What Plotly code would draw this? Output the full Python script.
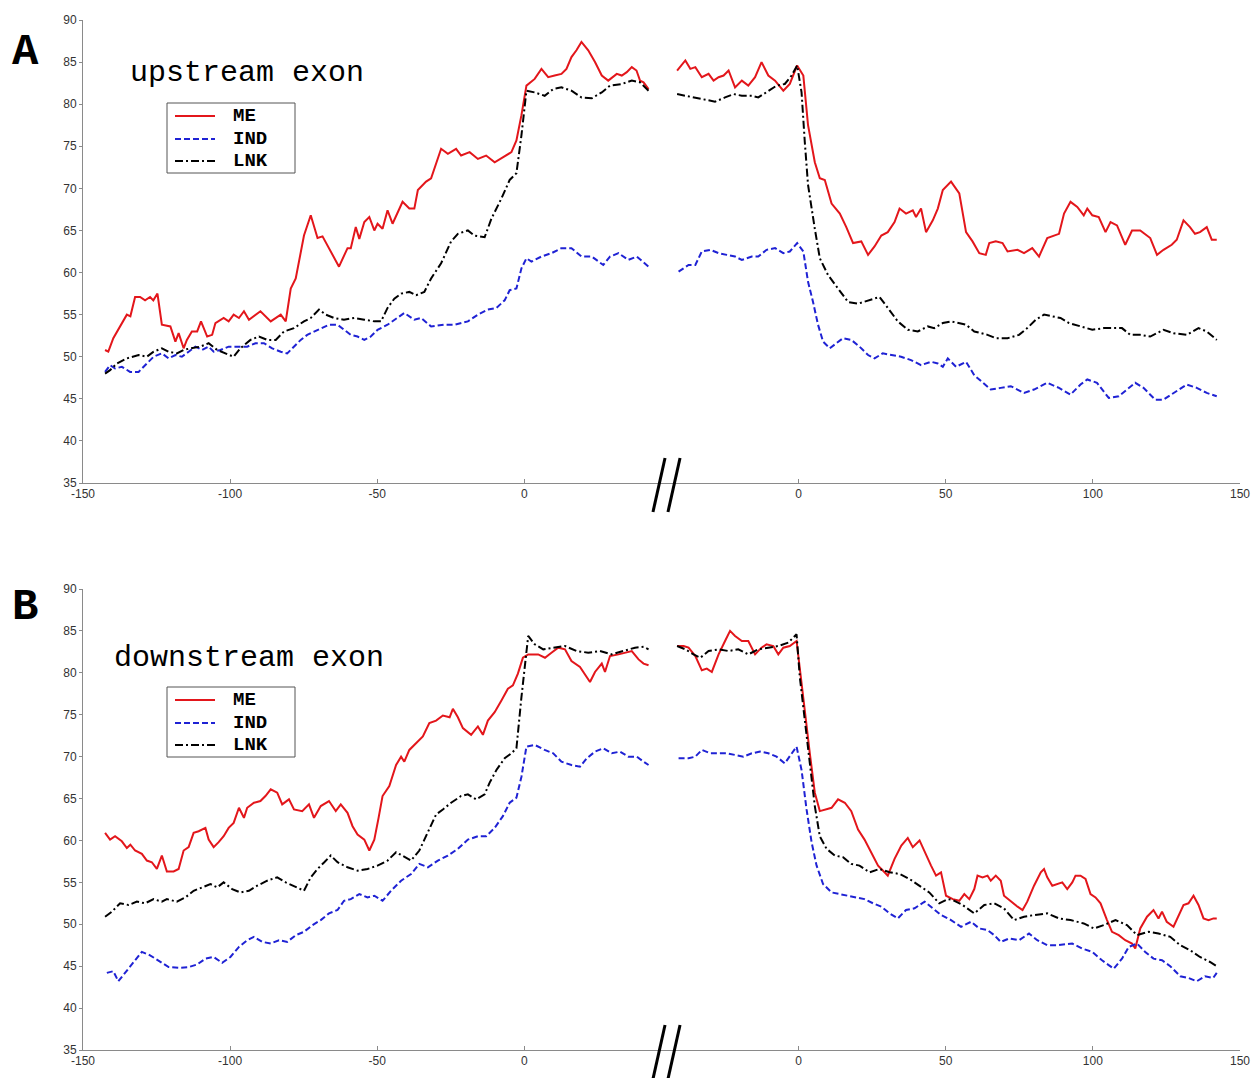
import plotly.graph_objects as go

# ---------------- data (x = position relative to splice site, y = value) -------------
# Panel A (upstream exon), left segment
A_ME_LX = [-142.5,-141.4,-139.7,-136.8,-135.1,-133.9,-132.3,-130.6,-128.9,-127.2,-126.1,-124.7,-123.2,-120.3,-118.6,-117.5,-115.8,-114.7,-113.0,-111.2,-109.9,-107.8,-106.1,-105.0,-102.2,-100.5,-98.8,-97.0,-95.3,-93.6,-89.7,-86.2,-84.5,-82.8,-81.1,-79.4,-77.7,-74.9,-72.6,-70.3,-68.6,-66.4,-63.0,-60.1,-59.0,-57.3,-56.1,-54.4,-52.7,-51.0,-49.9,-48.2,-46.5,-44.8,-41.4,-39.1,-37.4,-36.2,-33.4,-31.7,-28.3,-26.0,-23.2,-21.5,-18.6,-15.8,-13.0,-10.1,-7.3,-4.4,-2.7,-1.0,0.7,3.5,5.8,8.1,10.3,12.6,14.3,16.0,17.7,19.4,21.7,24.0,26.3,28.5,31.4,33.1,34.8,36.5,38.1,39.3,40.5,42.2]
A_ME_L = [50.8,50.6,52.2,54.0,55.0,54.8,57.1,57.1,56.7,57.1,56.7,57.5,53.8,53.6,51.8,52.8,51.0,52.0,53.0,53.0,54.2,52.4,52.6,54.0,54.6,54.2,55.0,54.6,55.4,54.4,55.4,54.2,54.6,55.0,54.2,58.1,59.3,64.4,66.8,64.1,64.3,62.9,60.7,62.9,62.9,65.4,64.0,66.0,66.6,65.0,65.8,65.2,67.4,65.8,68.4,67.6,67.6,69.8,70.8,71.2,74.7,74.1,74.7,73.9,74.3,73.5,73.9,73.1,73.7,74.3,75.7,78.7,82.2,83.0,84.2,83.2,83.4,83.6,84.2,85.6,86.4,87.4,86.4,85.0,83.4,82.8,83.6,83.4,83.8,84.4,84.0,82.8,82.6,81.8]
A_IND_LX = [-142.5,-140.8,-139.1,-136.8,-134.0,-131.1,-128.3,-126.0,-123.2,-120.9,-118.6,-116.4,-114.1,-111.8,-109.5,-107.3,-105.6,-103.3,-100.5,-97.6,-94.2,-91.4,-88.5,-85.7,-82.8,-80.6,-78.3,-76.0,-73.8,-71.5,-69.2,-66.4,-63.5,-61.3,-59.0,-56.7,-54.4,-52.2,-49.9,-46.5,-43.1,-40.8,-37.4,-35.1,-31.7,-27.2,-23.7,-19.2,-15.8,-12.4,-9.5,-6.7,-5.0,-2.7,-1.0,0.7,2.4,5.8,9.2,12.6,16.0,19.4,22.9,26.8,29.1,32.0,35.3,38.2,42.2]
A_IND_L = [48.2,49.0,48.6,48.8,48.2,48.2,49.2,50.0,50.4,49.8,50.2,50.0,50.6,51.2,50.8,51.2,50.6,50.8,51.2,51.2,51.2,51.6,51.6,51.0,50.6,50.4,51.2,52.0,52.6,53.0,53.4,53.8,53.8,53.2,52.6,52.4,52.0,52.4,53.2,53.8,54.6,55.2,54.4,54.6,53.6,53.8,53.8,54.2,55.0,55.6,55.8,56.7,57.9,58.1,60.5,61.7,61.3,61.9,62.3,62.9,62.9,61.9,61.9,60.9,61.9,62.3,61.5,61.9,60.7]
A_LNK_LX = [-142.5,-140.8,-138.5,-135.1,-131.1,-128.3,-126.0,-123.2,-120.9,-118.1,-115.8,-113.5,-110.1,-107.3,-104.4,-101.6,-98.8,-96.5,-93.1,-90.2,-87.4,-84.5,-81.7,-78.3,-74.9,-72.6,-69.8,-67.5,-64.7,-61.3,-57.8,-54.4,-51.0,-48.7,-46.5,-44.2,-41.9,-39.1,-36.8,-34.0,-31.7,-28.3,-24.9,-22.6,-19.2,-17.0,-13.5,-11.2,-7.8,-5.0,-2.7,-1.0,0.7,3.5,6.9,9.8,12.6,16.0,19.4,22.9,26.3,29.1,33.1,36.5,39.3,42.2]
A_LNK_L = [48.0,48.4,49.2,49.8,50.2,50.0,50.6,51.0,50.6,50.4,50.8,51.0,51.2,51.6,50.8,50.4,50.0,51.0,52.0,52.4,52.0,52.0,53.0,53.4,54.2,54.6,55.6,55.0,54.6,54.4,54.6,54.4,54.2,54.2,55.8,56.9,57.5,57.7,57.3,57.7,59.3,61.1,63.7,64.6,65.0,64.4,64.2,66.4,68.8,71.0,71.8,76.3,81.6,81.4,81.0,81.8,82.0,81.6,80.8,80.7,81.4,82.2,82.4,82.8,82.6,81.6]

# Panel A, right segment
A_ME_RX = [-41.3,-38.5,-36.8,-35.1,-32.9,-30.6,-28.9,-27.2,-25.5,-23.8,-21.6,-19.3,-17.1,-14.8,-12.6,-10.3,-8.0,-5.2,-3.0,-0.5,1.6,3.2,5.5,7.2,8.9,11.2,14.0,16.2,18.5,21.3,23.6,25.8,28.1,30.3,32.6,34.3,36.5,38.8,39.9,41.6,43.3,45.6,47.3,49.0,51.8,54.6,56.9,59.1,61.4,63.6,64.8,67.0,69.3,71.0,74.4,76.6,79.4,81.7,84.5,86.8,88.5,90.2,92.4,94.7,96.9,98.1,99.8,102.0,104.3,106.0,108.2,111.0,113.3,116.1,119.5,121.8,124.0,126.8,128.5,130.8,133.0,134.7,136.4,138.7,140.4,142.1]
A_ME_R = [84.0,85.2,84.2,84.4,83.2,83.6,82.8,83.2,83.4,84.0,82.0,82.8,82.2,83.2,85.0,83.4,82.8,81.6,82.4,84.6,83.4,77.5,73.1,71.2,71.0,68.2,67.0,65.4,63.5,63.7,62.1,63.1,64.4,64.8,66.0,67.6,67.0,67.4,66.6,67.6,64.8,66.2,67.6,69.8,70.8,69.4,64.8,63.7,62.3,62.1,63.5,63.7,63.5,62.5,62.7,62.3,62.9,61.9,64.1,64.4,64.6,67.0,68.4,67.8,66.8,67.6,66.8,66.6,64.8,66.0,65.6,63.3,65.0,65.0,64.1,62.1,62.7,63.3,63.9,66.2,65.4,64.6,64.8,65.4,63.9,63.9]
A_IND_RX = [-40.8,-37.4,-35.1,-32.9,-30.0,-27.2,-24.4,-21.6,-19.3,-15.9,-13.7,-10.9,-8.0,-5.2,-3.0,-0.5,1.6,3.2,4.9,6.6,8.3,10.6,12.8,15.1,17.9,20.7,23.6,25.8,28.6,31.5,34.8,38.2,41.6,45.0,47.3,49.0,50.7,53.5,56.9,59.7,63.1,65.3,68.7,72.1,76.6,80.0,84.5,88.5,92.4,95.8,98.1,101.4,105.4,108.8,111.6,114.4,117.2,121.2,124.0,127.4,131.9,135.3,138.7,142.1]
A_IND_R = [60.1,60.9,60.9,62.5,62.7,62.3,62.1,61.9,61.5,61.9,61.9,62.7,62.9,62.3,62.5,63.5,62.5,58.9,56.5,53.8,51.8,51.0,51.6,52.2,52.0,51.2,50.2,49.8,50.4,50.2,50.0,49.6,49.0,49.4,49.2,48.8,49.8,48.8,49.4,47.8,46.7,46.1,46.3,46.5,45.7,46.1,46.9,46.3,45.5,46.7,47.3,46.9,45.1,45.3,46.1,46.9,46.3,44.9,44.9,45.7,46.7,46.3,45.7,45.3]
A_LNK_RX = [-41.3,-38.5,-35.1,-31.7,-28.4,-25.0,-22.1,-19.3,-15.9,-13.7,-10.3,-7.5,-4.7,-2.4,-0.5,1.0,2.1,3.2,5.5,7.2,10.0,13.4,16.8,20.2,23.6,27.5,30.3,33.7,37.1,40.5,43.9,46.1,49.0,51.8,56.9,59.7,64.2,67.0,71.0,74.9,77.7,80.6,83.4,86.8,89.0,91.9,95.8,99.8,103.7,107.1,109.9,112.7,116.1,119.5,124.0,127.4,131.9,135.9,138.7,142.1]
A_LNK_R = [81.2,81.0,80.7,80.5,80.3,80.8,81.2,81.0,81.0,80.8,81.6,82.2,82.4,83.4,84.6,81.4,75.5,70.4,65.2,61.7,59.7,58.1,56.5,56.3,56.7,57.1,55.8,54.2,53.2,53.0,53.6,53.4,54.0,54.2,53.8,53.0,52.6,52.2,52.2,52.6,53.4,54.4,55.0,54.8,54.6,54.0,53.6,53.2,53.4,53.4,53.4,52.6,52.6,52.4,53.2,52.8,52.6,53.4,53.0,52.0]

# Panel B (downstream exon), left segment
B_ME_LX = [-142.5,-140.8,-139.1,-136.8,-135.1,-133.9,-132.3,-130.0,-128.3,-126.6,-124.9,-123.2,-121.5,-119.2,-117.5,-115.8,-114.1,-112.4,-110.7,-108.4,-107.3,-105.6,-103.9,-102.2,-100.5,-98.8,-97.0,-95.3,-94.2,-91.9,-89.7,-88.0,-86.2,-84.0,-82.3,-80.0,-78.3,-75.5,-73.2,-71.5,-69.2,-66.4,-64.1,-62.4,-60.1,-58.4,-56.7,-54.4,-52.7,-51.0,-49.6,-48.2,-45.9,-43.6,-41.9,-40.8,-39.1,-36.8,-34.5,-32.3,-30.0,-27.7,-25.4,-24.3,-22.6,-20.9,-18.1,-15.8,-14.1,-12.4,-10.1,-7.8,-5.6,-3.9,-2.2,-0.5,1.3,4.7,7.0,9.2,11.5,13.8,16.0,18.9,21.2,22.3,24.0,26.3,27.4,29.1,32.0,34.2,36.5,38.8,40.5,42.2]
B_ME_L = [60.9,60.1,60.5,59.9,59.1,59.5,58.8,58.4,57.6,57.4,56.6,58.2,56.3,56.3,56.6,58.8,59.2,60.9,61.1,61.5,60.1,59.2,59.8,60.5,61.5,62.1,63.9,62.7,63.9,64.5,64.7,65.3,66.1,65.7,64.3,64.9,63.7,63.5,64.3,62.7,64.1,64.7,63.5,64.3,63.3,61.7,60.7,60.1,58.8,60.1,62.6,65.3,66.5,69.0,70.0,69.4,70.8,71.6,72.4,74.0,74.3,74.9,74.7,75.7,74.7,73.4,72.6,73.6,72.6,74.3,75.3,76.7,78.1,78.5,79.9,81.8,82.2,82.2,81.8,82.4,83.0,82.8,81.4,80.7,79.5,78.9,80.1,81.1,80.1,82.0,82.2,82.4,82.6,81.6,81.1,80.9]
B_IND_LX = [-141.9,-139.7,-138.0,-135.7,-132.8,-130.0,-127.2,-124.3,-120.9,-117.5,-114.1,-111.2,-108.4,-105.6,-102.7,-99.9,-97.0,-94.2,-91.9,-89.1,-86.2,-83.4,-80.6,-77.7,-74.9,-72.0,-69.2,-66.4,-63.5,-61.3,-59.0,-56.1,-53.3,-51.0,-48.2,-45.3,-41.9,-38.5,-35.7,-32.8,-29.4,-26.0,-22.6,-19.2,-15.8,-13.0,-10.1,-7.3,-5.0,-2.7,-1.0,0.7,3.5,6.9,9.8,12.6,16.0,18.9,21.2,24.0,26.8,29.7,32.5,35.3,38.2,40.5,42.2]
B_IND_L = [44.2,44.4,43.2,44.2,45.4,46.7,46.3,45.7,44.9,44.8,44.9,45.2,45.9,46.1,45.4,46.1,47.3,48.1,48.5,47.9,47.7,48.1,47.9,48.7,49.1,49.9,50.5,51.3,51.7,52.8,53.0,53.6,53.2,53.4,52.8,54.0,55.2,56.0,57.2,56.8,57.6,58.2,59.0,60.1,60.5,60.5,61.5,62.9,64.5,65.1,67.6,71.2,71.4,70.8,70.4,69.4,69.0,68.8,69.8,70.6,71.0,70.4,70.6,70.0,70.0,69.4,69.0]
B_LNK_LX = [-142.5,-140.2,-137.4,-134.5,-131.7,-128.9,-126.0,-123.2,-121.5,-118.1,-115.2,-112.4,-109.5,-106.7,-104.4,-102.2,-99.3,-96.5,-93.6,-90.8,-87.4,-84.0,-81.1,-77.7,-74.9,-72.6,-70.3,-68.0,-65.8,-63.5,-60.1,-56.7,-53.3,-49.9,-46.5,-43.6,-41.4,-38.5,-35.7,-33.4,-30.0,-27.7,-24.9,-21.5,-19.2,-16.4,-13.5,-11.8,-9.5,-6.7,-4.4,-2.7,-1.0,1.3,3.5,6.4,9.8,13.8,17.7,21.7,25.7,29.7,33.6,37.6,40.5,42.2]
B_LNK_L = [50.9,51.5,52.5,52.3,52.7,52.5,53.0,52.7,53.0,52.7,53.2,54.0,54.4,54.8,54.4,55.0,54.2,53.8,54.0,54.6,55.2,55.6,55.0,54.4,54.0,55.6,56.6,57.4,58.2,57.4,56.8,56.4,56.6,57.0,57.6,58.6,58.2,57.6,58.8,60.5,63.1,63.7,64.5,65.3,65.5,64.9,65.5,66.9,68.4,69.8,70.4,71.0,77.1,84.4,83.4,82.8,83.0,83.2,82.6,82.4,82.6,82.2,82.6,83.0,83.1,82.8]

# Panel B, right segment
B_ME_RX = [-41.3,-39.1,-37.4,-35.1,-32.9,-31.2,-29.5,-27.2,-25.0,-23.3,-21.6,-19.3,-17.1,-14.8,-12.6,-10.9,-8.6,-6.9,-5.2,-3.0,-0.7,0.4,2.1,3.8,5.5,7.2,8.9,11.2,13.4,15.7,17.9,20.2,22.4,24.7,27.0,29.2,30.3,32.6,34.9,37.1,38.8,41.1,42.8,45.0,46.7,48.4,50.1,52.4,54.6,56.3,58.0,59.7,60.8,62.5,64.2,65.3,67.0,68.7,69.8,72.1,74.4,76.1,77.7,80.0,82.3,83.4,84.5,86.2,87.9,89.6,91.3,93.0,94.1,95.8,97.5,99.2,100.9,102.6,104.8,106.5,108.8,111.0,113.3,114.4,116.1,118.4,120.6,122.3,123.5,125.1,127.4,129.1,130.8,132.5,134.2,135.9,137.6,139.3,141.0,142.1]
B_ME_R = [83.2,83.2,83.0,82.0,80.3,80.5,80.1,82.2,83.8,85.0,84.4,83.8,83.8,82.2,83.0,83.4,83.2,82.2,83.0,83.2,83.8,80.7,75.5,70.4,65.7,63.5,63.7,63.9,64.9,64.5,63.5,61.3,60.1,58.6,57.0,56.2,55.8,57.8,59.4,60.3,59.2,60.0,58.6,57.0,55.8,56.2,53.4,53.0,52.8,53.6,53.0,54.2,55.8,55.6,55.8,55.2,55.8,55.2,53.4,52.7,52.1,51.7,52.7,54.6,56.2,56.6,55.6,54.6,54.8,55.0,54.2,55.0,55.8,55.8,55.4,53.6,53.2,52.5,50.5,49.1,48.7,48.1,47.7,47.1,49.5,50.9,51.7,50.7,51.5,50.3,49.7,50.9,52.3,52.5,53.4,52.3,50.7,50.5,50.7,50.7]
B_IND_RX = [-40.8,-37.4,-35.1,-32.9,-30.0,-27.2,-24.4,-21.6,-18.8,-15.9,-13.1,-10.3,-7.5,-4.7,-2.4,-0.7,1.0,2.7,4.4,6.1,8.3,11.2,14.0,16.8,19.6,22.4,25.3,28.1,30.9,33.7,36.5,39.4,42.8,45.6,48.4,51.8,55.2,58.6,61.4,64.2,66.5,68.7,71.5,74.9,78.3,81.1,84.5,87.9,93.0,96.4,99.8,103.1,107.1,109.9,112.2,115.0,117.8,120.6,123.5,126.3,129.7,132.5,135.3,138.1,140.9,142.1]
B_IND_R = [69.8,69.8,70.0,70.8,70.4,70.4,70.4,70.2,70.0,70.4,70.6,70.4,70.0,69.2,70.4,71.2,68.4,63.7,59.8,57.0,54.8,53.8,53.6,53.4,53.2,53.0,52.5,52.1,51.3,50.7,51.7,51.9,52.7,51.9,51.1,50.5,49.7,50.3,49.5,49.3,48.7,47.9,48.3,48.1,48.9,48.1,47.5,47.5,47.7,47.1,46.7,45.7,44.7,45.9,47.3,47.7,46.7,45.9,45.7,45.0,43.8,43.6,43.2,43.8,43.6,44.2]
B_LNK_RX = [-41.3,-38.5,-35.7,-33.4,-30.6,-27.2,-23.8,-20.5,-17.1,-13.7,-10.3,-6.9,-3.5,-0.7,0.4,2.1,3.8,5.5,7.2,9.5,12.3,15.1,17.9,20.7,24.1,27.5,30.9,34.3,37.7,41.1,44.4,47.8,50.7,52.4,55.7,59.7,63.1,66.5,69.8,73.2,76.6,80.0,84.5,88.5,92.4,96.9,100.3,103.7,107.7,111.6,115.0,118.9,122.3,126.3,129.7,133.1,136.4,139.8,142.1]
B_LNK_R = [83.2,82.8,82.2,81.8,82.6,82.8,82.6,82.8,82.2,82.8,83.0,83.2,83.6,84.6,79.5,74.3,68.8,64.1,60.5,59.0,58.2,58.0,57.2,57.0,56.2,56.6,56.2,56.0,55.4,54.6,53.8,52.5,53.0,52.9,52.3,51.3,52.3,52.5,51.9,50.5,50.9,51.1,51.3,50.7,50.5,50.1,49.5,49.9,50.5,49.9,48.7,49.1,48.9,48.5,47.5,46.9,46.1,45.5,45.0]

TICK_LABELS = ["-150", "-100", "-50", "0", "0", "50", "100", "150"]
SERIES = ["ME", "IND", "LNK"]
PANEL_TITLES = ["upstream exon", "downstream exon"]
PANEL_LETTERS = ["A", "B"]

# ---------------- layout constants ----------------
GAP = 93.2            # axis offset of the second (right-hand) window
XMIN, XMAX = -150, 150 + GAP
STYLE = {
    "ME": dict(color="#e3161b", dash="solid"),
    "IND": dict(color="#1f22d4", dash="6px,3px"),
    "LNK": dict(color="#000000", dash="8px,3px,2px,3px"),
}

# plot area on the page: x 83..1240, y 20..1050
PL, PR, PT, PB = 83, 1240, 20, 1050
W, H = 1253, 1078
PW, PH = PR - PL, PB - PT


def px(sx):
    return (sx - PL) / PW


def py(sy):
    return (PB - sy) / PH


panels = [
    {"ME": (A_ME_LX, A_ME_L, A_ME_RX, A_ME_R),
     "IND": (A_IND_LX, A_IND_L, A_IND_RX, A_IND_R),
     "LNK": (A_LNK_LX, A_LNK_L, A_LNK_RX, A_LNK_R)},
    {"ME": (B_ME_LX, B_ME_L, B_ME_RX, B_ME_R),
     "IND": (B_IND_LX, B_IND_L, B_IND_RX, B_IND_R),
     "LNK": (B_LNK_LX, B_LNK_L, B_LNK_RX, B_LNK_R)},
]

fig = go.Figure()
for p, data in enumerate(panels):
    xa = "x" if p == 0 else "x2"
    ya = "y" if p == 0 else "y2"
    for s in SERIES:
        lx, ly, rx, ry = data[s]
        xs = list(lx) + [None] + [v + GAP for v in rx]
        ys = list(ly) + [None] + list(ry)
        fig.add_trace(go.Scatter(
            x=xs, y=ys, mode="lines", name=s, xaxis=xa, yaxis=ya,
            connectgaps=False, showlegend=False,
            line=dict(color=STYLE[s]["color"], dash=STYLE[s]["dash"], width=2),
        ))

tickvals = [-150, -100, -50, 0, GAP, 50 + GAP, 100 + GAP, 150 + GAP]
tickfont = dict(family="Liberation Sans", size=12, color="#333333")
xcommon = dict(showline=True, linecolor="#8a8a8a", linewidth=1, ticks="inside",
               ticklen=4, tickcolor="#8a8a8a", showgrid=False, zeroline=False,
               tickfont=tickfont, range=[XMIN, XMAX], tickvals=tickvals,
               ticktext=TICK_LABELS, domain=[0, 1], ticklabelstandoff=0,
               automargin=False)
ycommon = dict(showline=True, linecolor="#8a8a8a", linewidth=1, ticks="outside",
               ticklen=3, tickcolor="#8a8a8a", showgrid=False, zeroline=False,
               tickfont=tickfont, range=[35, 90], dtick=5, tick0=35, automargin=False)
dom_a = [py(483), 1.0]
dom_b = [0.0, py(589)]
fig.update_layout(
    width=W, height=H,
    margin=dict(l=PL, r=W - PR, t=PT, b=H - PB, autoexpand=False),
    paper_bgcolor="white", plot_bgcolor="white",
    xaxis=dict(anchor="y", **xcommon),
    yaxis=dict(domain=dom_a, anchor="x", **ycommon),
    xaxis2=dict(anchor="y2", **xcommon),
    yaxis2=dict(domain=dom_b, anchor="x2", **ycommon),
    showlegend=False,
)

title_font = dict(family="Liberation Mono", size=30, color="black")
letter_font = dict(family="Liberation Mono", size=44, color="black")
legend_font = dict(family="Liberation Mono", size=19, color="black")

# panel-specific placement (page pixels)
PANEL_POS = [
    dict(title=(128, 73), letter=(25, 52), box=(167, 103, 295, 173), rows=(116, 139, 161)),
    dict(title=(112, 658), letter=(25, 607), box=(167, 687, 295, 757), rows=(700, 723, 745)),
]

for p, pos in enumerate(PANEL_POS):
    fig.add_annotation(x=px(pos["title"][0]), y=py(pos["title"][1]), xref="paper", yref="paper",
                       text=PANEL_TITLES[p], showarrow=False, xanchor="left", yanchor="middle",
                       font=title_font)
    fig.add_annotation(x=px(pos["letter"][0]), y=py(pos["letter"][1]), xref="paper", yref="paper",
                       text="<b>%s</b>" % PANEL_LETTERS[p], showarrow=False,
                       xanchor="center", yanchor="middle", font=letter_font)
    # legend box
    x0, y0, x1, y1 = pos["box"]
    fig.add_shape(type="rect", xref="paper", yref="paper",
                  x0=px(x0), x1=px(x1), y0=py(y1), y1=py(y0),
                  line=dict(color="#555555", width=1), fillcolor="white", layer="above")
    for s, ry in zip(SERIES, pos["rows"]):
        fig.add_shape(type="line", xref="paper", yref="paper",
                      x0=px(175), x1=px(215), y0=py(ry), y1=py(ry), layer="above",
                      line=dict(color=STYLE[s]["color"], dash=STYLE[s]["dash"], width=2))
        fig.add_annotation(x=px(232), y=py(ry), xref="paper", yref="paper",
                           text="<b>%s</b>" % s, showarrow=False, xanchor="left",
                           yanchor="middle", font=legend_font, borderpad=0)


# axis break marks "//"
def xp(u):
    return (u - XMIN) / (XMAX - XMIN)


for base in (483, 1050):
    for u0 in (43.7, 48.8):
        fig.add_shape(type="line", xref="paper", yref="paper",
                      x0=xp(u0), x1=xp(u0 + 4.1), y0=py(base + 29), y1=py(base - 25),
                      line=dict(color="black", width=3))

# remove the default page margin so the figure sits at the top-left corner of the page
fig.write_html("out.html", config={"displayModeBar": False},
               post_script="document.body.style.margin='0px';document.body.style.overflow='hidden';")
